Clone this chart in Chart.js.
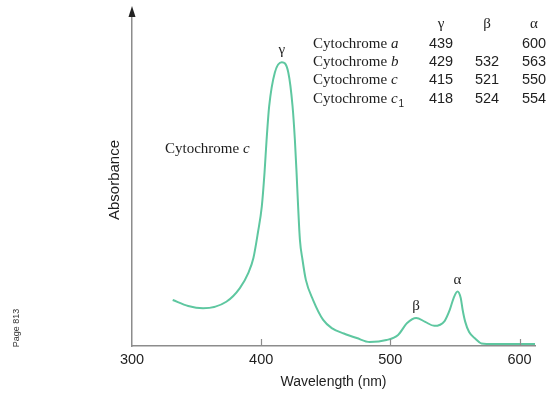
<!DOCTYPE html>
<html>
<head>
<meta charset="utf-8">
<script src="https://cdn.jsdelivr.net/npm/chart.js@4.4.0/dist/chart.umd.min.js"></script>
<style>
  html, body { margin: 0; padding: 0; background: #fff; }
  #divChartCytC { width: 555px; height: 396px; }
</style>
</head>
<body>
<div id="divChartCytC"><canvas id="chartCytC" width="555" height="396"></canvas></div>
<script>
// cytochrome c spectrum
var wavelengths = [331.5, 343.5, 355, 373, 383.5, 390, 394, 397.5, 400.5, 402.6, 404.2, 406.2, 410.6, 416, 421, 424.3, 426.1,
                   427.4, 428.6, 430, 432, 434.6, 440.2, 448, 455, 464, 474, 484, 497, 506, 513, 520, 527, 534,
                   542, 546, 549, 552, 554.5, 556, 558, 561, 566, 570.5, 580, 612];
var absorbance = [0.162, 0.141, 0.133, 0.156, 0.204, 0.257, 0.31, 0.40, 0.492, 0.611, 0.727, 0.845, 0.964, 1.0, 0.964, 0.845, 0.727,
                  0.611, 0.492, 0.374, 0.304, 0.233, 0.162, 0.092, 0.062, 0.044, 0.028, 0.014, 0.021, 0.039, 0.081, 0.099, 0.085, 0.071,
                  0.088, 0.127, 0.169, 0.192, 0.169, 0.127, 0.085, 0.049, 0.025, 0.009, 0.007, 0.007];
var xTicks = [300, 400, 500, 600];

// band labels on the curve
var bandNames = ['γ', 'β', 'α'];
var bandPeaks = [416, 520, 552];

// table of band maxima
var tableHeads = ['γ', 'β', 'α'];
var cytoLetters = ['a', 'b', 'c', 'c'];
var cytoSubs = ['', '', '', '1'];
var gammaMax = ['439', '429', '415', '418'];
var betaMax = ['', '532', '521', '524'];
var alphaMax = ['600', '563', '550', '554'];

var axisColor = '#8c8c8c';
var lineColor = '#5ec7a0';
var textColor = '#1e1e1e';
var sansFont = '"Liberation Sans", Arial, sans-serif';
var serifFont = '"Liberation Serif", "Times New Roman", serif';

function peakValue(wl) {
    // nearest sample to the band position
    var best = 0;
    wavelengths.forEach(function(w, i) {
        if (Math.abs(w - wl) < Math.abs(wavelengths[best] - wl)) best = i;
    });
    return absorbance[best];
}

var decorPlugin = {
    id: 'decor',
    afterDraw: function(chart) {
        var ctx = chart.ctx;
        var xs = chart.scales.x, ys = chart.scales.y;
        var area = chart.chartArea;
        ctx.save();

        // arrow head on the absorbance axis
        ctx.fillStyle = '#222';
        ctx.beginPath();
        ctx.moveTo(area.left, area.top - 8);
        ctx.lineTo(area.left - 3.5, area.top + 3);
        ctx.lineTo(area.left + 3.5, area.top + 3);
        ctx.closePath();
        ctx.fill();

        // tick marks point up into the plot
        ctx.strokeStyle = axisColor;
        ctx.lineWidth = 1.2;
        xTicks.slice(1).forEach(function(v) {
            var px = Math.round(xs.getPixelForValue(v)) + 0.5;
            ctx.beginPath();
            ctx.moveTo(px, area.bottom);
            ctx.lineTo(px, area.bottom - 7);
            ctx.stroke();
        });

        // band labels
        ctx.fillStyle = textColor;
        ctx.textAlign = 'center';
        ctx.textBaseline = 'alphabetic';
        ctx.font = '15px ' + serifFont;
        bandNames.forEach(function(name, i) {
            var px = xs.getPixelForValue(bandPeaks[i]);
            var py = ys.getPixelForValue(peakValue(bandPeaks[i]));
            ctx.fillText(name, px, py - 8);
        });

        // curve label
        ctx.textAlign = 'left';
        ctx.font = '15px ' + serifFont;
        ctx.fillText('Cytochrome ', 165, 153);
        var w0 = ctx.measureText('Cytochrome ').width;
        ctx.font = 'italic 15px ' + serifFont;
        ctx.fillText('c', 165 + w0, 153);

        // table
        var colX = [441, 487, 534];
        var rowY = [48, 66, 84, 103];
        ctx.textAlign = 'center';
        ctx.font = '15px ' + serifFont;
        tableHeads.forEach(function(h, j) {
            ctx.fillText(h, colX[j], 28);
        });
        cytoLetters.forEach(function(letter, i) {
            ctx.textAlign = 'left';
            ctx.font = '15px ' + serifFont;
            ctx.fillText('Cytochrome ', 313, rowY[i]);
            var w = ctx.measureText('Cytochrome ').width;
            ctx.font = 'italic 15px ' + serifFont;
            ctx.fillText(letter, 313 + w, rowY[i]);
            var w2 = ctx.measureText(letter).width;
            if (cytoSubs[i]) {
                ctx.font = '10px ' + sansFont;
                ctx.fillText(cytoSubs[i], 313 + w + w2 + 1, rowY[i] + 4);
            }
            ctx.textAlign = 'center';
            ctx.font = '14.5px ' + sansFont;
            ctx.fillText(gammaMax[i], colX[0], rowY[i]);
            ctx.fillText(betaMax[i], colX[1], rowY[i]);
            ctx.fillText(alphaMax[i], colX[2], rowY[i]);
        });

        // page note
        ctx.translate(17, 328);
        ctx.rotate(-Math.PI / 2);
        ctx.font = '9px ' + sansFont;
        ctx.fillStyle = '#333';
        ctx.textAlign = 'center';
        ctx.textBaseline = 'middle';
        ctx.fillText('Page 813', 0, 0);

        ctx.restore();
    }
};

var spectrumData = wavelengths.map(function(w, i) {
    return { x: w, y: absorbance[i] };
});

var ctx = document.getElementById('chartCytC');
var myChartCytC = new Chart(ctx, {
    type: 'line',
    data: {
        datasets: [{
            label: 'Cytochrome c',
            data: spectrumData,
            borderColor: lineColor,
            borderWidth: 2,
            pointRadius: 0,
            fill: false,
            cubicInterpolationMode: 'monotone'
        }]
    },
    options: {
        responsive: false,
        animation: false,
        devicePixelRatio: 1,
        layout: {
            padding: { top: 14, right: 20, left: 0, bottom: 0 }
        },
        plugins: {
            legend: { display: false },
            tooltip: { enabled: false },
            title: { display: false }
        },
        scales: {
            x: {
                type: 'linear',
                min: 300,
                max: 612,
                afterFit: function(scale) { scale.height = 50; },
                grid: { display: false, drawTicks: false },
                border: { color: axisColor, width: 1.5 },
                ticks: {
                    stepSize: 100,
                    includeBounds: false,
                    padding: 5,
                    color: textColor,
                    font: { family: sansFont, size: 14.5 },
                    maxRotation: 0
                },
                title: {
                    display: true,
                    text: 'Wavelength (nm)',
                    color: textColor,
                    font: { family: sansFont, size: 14 },
                    padding: { top: 0, bottom: 5 }
                }
            },
            y: {
                type: 'linear',
                min: 0,
                max: 1.17,
                afterFit: function(scale) { scale.width = 132; },
                grid: { display: false, drawTicks: false },
                border: { color: axisColor, width: 1.5 },
                ticks: { display: false },
                title: {
                    display: true,
                    text: 'Absorbance',
                    color: textColor,
                    font: { family: sansFont, size: 15 },
                    padding: { top: 106, bottom: 0 }
                }
            }
        }
    },
    plugins: [decorPlugin]
});
</script>
</body>
</html>
